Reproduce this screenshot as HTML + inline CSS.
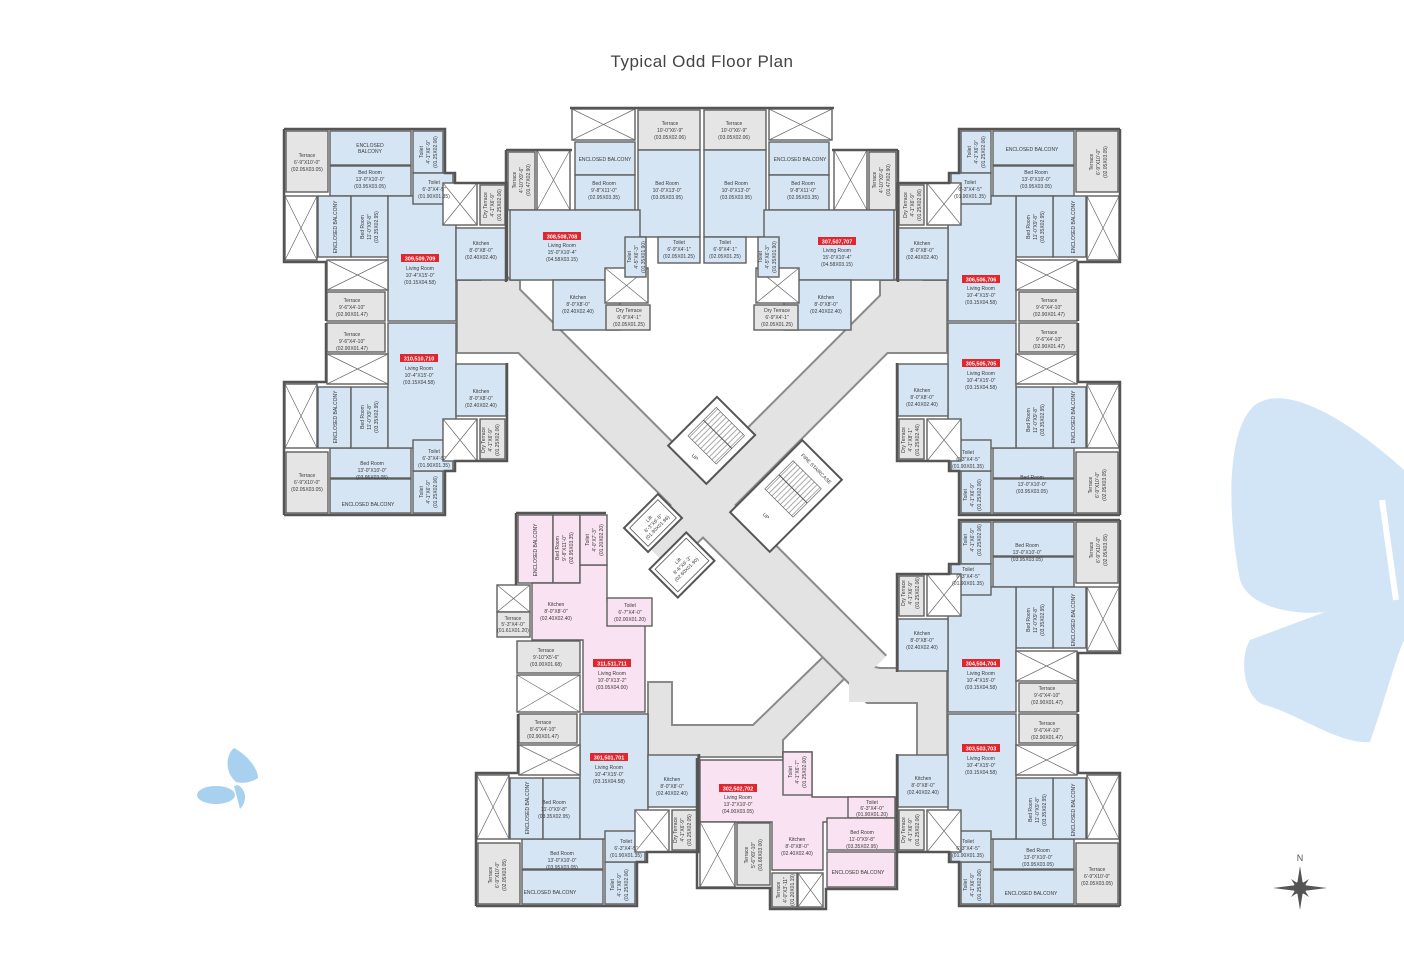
<!DOCTYPE html>
<html><head><meta charset="utf-8"><style>
html,body{margin:0;padding:0;background:#fff;width:1404px;height:972px;overflow:hidden}
svg{display:block}
.b{fill:#d6e5f4;stroke:#5f5f5f;stroke-width:1.4}
.p{fill:#f9e2f1;stroke:#5f5f5f;stroke-width:1.4}
.g{fill:#e5e5e5;stroke:#5f5f5f;stroke-width:1.4}
.v{fill:#fff;stroke:#5f5f5f;stroke-width:1.4}
.x{stroke:#6a6a6a;stroke-width:0.7;fill:none}
.t{font-family:"Liberation Sans",sans-serif;font-size:5px;fill:#3a3a3a;text-anchor:middle}
.r{fill:#e0262e}
.rt{font-family:"Liberation Sans",sans-serif;font-size:5.5px;font-weight:bold;fill:#fff;text-anchor:middle}
</style></head><body>
<svg width="1404" height="972" viewBox="0 0 1404 972" xmlns="http://www.w3.org/2000/svg">
<defs>
<pattern id="st" width="4" height="4" patternUnits="userSpaceOnUse"><rect width="4" height="4" fill="#fff"/><path d="M2 0V4" stroke="#555" stroke-width="0.5"/></pattern>
<g id="u309">
<rect class="g" x="286" y="131" width="42" height="61"/>
<rect class="b" x="330" y="131" width="81" height="34"/>
<rect class="b" x="413" y="131" width="30" height="42"/>
<rect class="b" x="330" y="166" width="81" height="30"/>
<rect class="v" x="285" y="196" width="32" height="64"/><path class="x" d="M285 196L317 260M317 196L285 260"/>
<rect class="b" x="318" y="196" width="33" height="61"/>
<rect class="b" x="351" y="196" width="37" height="61"/>
<rect class="b" x="388" y="196" width="68" height="125"/>
<rect class="b" x="456" y="228" width="50" height="52"/>
<rect class="b" x="413" y="173" width="40" height="31"/>
<rect class="v" x="443" y="183" width="34" height="42"/><path class="x" d="M443 183L477 225M477 183L443 225"/>
<rect class="g" x="480" y="185" width="25" height="40"/>
<rect class="v" x="327" y="260" width="61" height="30"/><path class="x" d="M327 260L388 290M388 260L327 290"/>
<rect class="g" x="327" y="292" width="58" height="29"/>
<path d="M284 129H445V173H455V183H507V281M284 129V262H326V321" fill="none" stroke="#555" stroke-width="2.5"/>
</g>
<g id="lt"><use href="#u309"/><use href="#u309" transform="matrix(1,0,0,-1,0,644)"/></g>
<g id="t308">
<rect class="v" x="572" y="109" width="63" height="31"/><path class="x" d="M572 109L635 140M635 109L572 140"/>
<rect class="g" x="638" y="110" width="62" height="40"/>
<rect class="b" x="575" y="142" width="60" height="33"/>
<rect class="b" x="575" y="175" width="60" height="35"/>
<rect class="b" x="638" y="150" width="62" height="87"/>
<rect class="g" x="508" y="152" width="27" height="58"/>
<rect class="v" x="537" y="150" width="33" height="60"/><path class="x" d="M537 150L570 210M570 150L537 210"/>
<rect class="b" x="510" y="210" width="130" height="70"/>
<rect class="b" x="553" y="280" width="67" height="50"/>
<rect class="v" x="605" y="268" width="43" height="35"/><path class="x" d="M605 268L648 303M648 268L605 303"/>
<rect class="g" x="606" y="305" width="44" height="25"/>
<rect class="b" x="625" y="237" width="21" height="40"/>
<rect class="b" x="658" y="237" width="42" height="26"/>
<path d="M570 108H702M506 150V282M506 150H572" fill="none" stroke="#555" stroke-width="2.5"/>
</g>
</defs>

<text x="702" y="67" text-anchor="middle" font-family="'Liberation Sans',sans-serif" font-size="17" fill="#444" letter-spacing="0.5">Typical Odd Floor Plan</text>

<!-- butterflies -->
<path d="M1404 470C1360 430 1290 380 1255 405C1225 430 1228 520 1240 580C1250 610 1300 615 1325 612L1250 640C1238 660 1245 700 1265 705C1300 715 1340 745 1370 742C1385 700 1395 660 1404 640Z" fill="#d2e5f6"/>
<path d="M1382 500L1396 600" stroke="#fff" stroke-width="6"/>
<g fill="#a8d0ef">
<path d="M236 782C224 772 226 754 234 748C246 754 258 768 258 778C252 782 244 784 236 782Z"/>
<ellipse cx="216" cy="795" rx="19" ry="9"/>
<path d="M234 786L240 809C248 800 246 790 238 785Z"/>
</g>

<!-- corridor -->
<g stroke="#8a8a8a" stroke-width="2" fill="#e3e3e3">
<rect x="457" y="280" width="63" height="73"/>
<rect x="880" y="280" width="67" height="73"/>
<polygon points="823,657 753,725 672,725 672,682 648,682 648,757 783,757 783,740 845,678 867,703 917,703 917,757 947,757 947,668 880,668"/>
</g>
<g fill="none" stroke-linecap="butt">
<path d="M480 282L870 672" stroke="#8a8a8a" stroke-width="48"/>
<path d="M925 283L655 553" stroke="#8a8a8a" stroke-width="48"/>
<path d="M480 282L870 672" stroke="#e3e3e3" stroke-width="44"/>
<path d="M925 283L655 553" stroke="#e3e3e3" stroke-width="44"/>
</g>
<rect x="458" y="281" width="61" height="71" fill="#e3e3e3"/>
<rect x="881" y="281" width="65" height="71" fill="#e3e3e3"/>
<rect x="849" y="669" width="97" height="33" fill="#e3e3e3"/>
<rect x="918" y="690" width="28" height="66" fill="#e3e3e3"/>

<!-- stairs & lifts -->
<g transform="translate(712,440) rotate(45)"><rect x="-27" y="-34" width="54" height="69" fill="#fff" stroke="#555" stroke-width="2"/><rect x="-20" y="-26" width="40" height="40" fill="url(#st)" stroke="#555" stroke-width="0.6"/><path d="M-20 -8H20" stroke="#555"/><text class="t" x="0" y="26">UP</text></g>
<g transform="translate(786,496) rotate(45)"><rect x="-28" y="-51" width="56" height="102" fill="#fff" stroke="#555" stroke-width="2"/><rect x="-20" y="-30" width="40" height="40" fill="url(#st)" stroke="#555" stroke-width="0.6"/><path d="M-20 -10H20" stroke="#555"/><text class="t" x="0" y="30">UP</text></g>
<text class="t" transform="translate(815,470) rotate(45)">FIRE STAIRCASE</text>
<g transform="translate(653,523) rotate(-45)"><rect x="-24" y="-17" width="48" height="34" fill="#fff" stroke="#555" stroke-width="2"/><rect x="-20" y="-13" width="40" height="26" fill="none" stroke="#555" stroke-width="0.8"/><text class="t"><tspan x="0" y="-4">Lift</tspan><tspan x="0" y="2">6'-3"X6'-5"</tspan><tspan x="0" y="8">(01.90X01.96)</tspan></text></g>
<g transform="translate(682,565) rotate(-45)"><rect x="-26" y="-20" width="52" height="40" fill="#fff" stroke="#555" stroke-width="2"/><rect x="-22" y="-16" width="44" height="32" fill="none" stroke="#555" stroke-width="0.8"/><text class="t"><tspan x="0" y="-4">Lift</tspan><tspan x="0" y="2">8'-6"X6'-3"</tspan><tspan x="0" y="8">(02.60X01.90)</tspan></text></g>

<!-- units -->
<use href="#lt"/>
<use href="#lt" transform="matrix(-1,0,0,1,1404,0)"/>
<use href="#lt" transform="matrix(-1,0,0,1,1404,391)"/>
<use href="#u309" transform="matrix(1,0,0,-1,192,1035)"/>
<use href="#t308"/>
<use href="#t308" transform="matrix(-1,0,0,1,1404,0)"/>

<!-- 311 pink -->
<g>
<rect class="p" x="518" y="515" width="35" height="68"/>
<rect class="p" x="553" y="515" width="27" height="68"/>
<polygon class="p" points="532,583 580,583 580,565 607,565 607,600 645,600 645,712 583,712 583,640 532,640"/>
<rect class="p" x="580" y="515" width="27" height="50"/>
<rect class="p" x="607" y="598" width="45" height="28"/>
<rect class="v" x="497" y="585" width="33" height="27"/><path class="x" d="M497 585L530 612M530 585L497 612"/>
<rect class="g" x="497" y="612" width="33" height="25"/>
<rect class="g" x="517" y="641" width="63" height="32"/>
<rect class="v" x="517" y="675" width="63" height="37"/><path class="x" d="M517 675L580 712M580 675L517 712"/>
<path d="M516 513H606M516 513V585" stroke="#555" stroke-width="2.5" fill="none"/>
</g>
<!-- 302 pink -->
<g>
<polygon class="p" points="700,760 783,760 783,752 812,752 812,797 895,797 895,822 848,822 823,822 823,870 772,870 772,822 700,822"/>
<rect class="p" x="783" y="752" width="29" height="43"/>
<rect class="p" x="848" y="797" width="47" height="21"/>
<rect class="p" x="827" y="818" width="68" height="32"/>
<rect class="p" x="827" y="852" width="68" height="35"/>
<rect class="v" x="700" y="822" width="35" height="65"/><path class="x" d="M700 822L735 887M735 822L700 887"/>
<rect class="g" x="737" y="823" width="33" height="62"/>
<rect class="g" x="772" y="873" width="25" height="34"/>
<rect class="v" x="798" y="873" width="25" height="34"/><path class="x" d="M798 873L823 907M823 873L798 907"/>
<path d="M697 758V888H770V909H826V889H897V797" stroke="#555" stroke-width="2.5" fill="none"/>
</g>

<!-- red labels -->
<g>
<rect class="r" x="401" y="254" width="38" height="8"/><text class="rt" x="420" y="260.5">309,509,709</text>
<rect class="r" x="400" y="354" width="38" height="8"/><text class="rt" x="419" y="360.5">310,510,710</text>
<rect class="r" x="543" y="232" width="38" height="8"/><text class="rt" x="562" y="238.5">308,508,708</text>
<rect class="r" x="818" y="237" width="38" height="8"/><text class="rt" x="837" y="243.5">307,507,707</text>
<rect class="r" x="962" y="275" width="38" height="8"/><text class="rt" x="981" y="281.5">306,506,706</text>
<rect class="r" x="962" y="359" width="38" height="8"/><text class="rt" x="981" y="365.5">305,505,705</text>
<rect class="r" x="962" y="659" width="38" height="8"/><text class="rt" x="981" y="665.5">304,504,704</text>
<rect class="r" x="962" y="744" width="38" height="8"/><text class="rt" x="981" y="750.5">303,503,703</text>
<rect class="r" x="593" y="659" width="38" height="8"/><text class="rt" x="612" y="665.5">311,511,711</text>
<rect class="r" x="590" y="753" width="38" height="8"/><text class="rt" x="609" y="759.5">301,501,701</text>
<rect class="r" x="719" y="784" width="38" height="8"/><text class="rt" x="738" y="790.5">302,502,702</text>
</g>

<!-- texts -->
<g>
<text class="t"><tspan x="307" y="157">Terrace</tspan><tspan x="307" y="164">6'-9"X10'-0"</tspan><tspan x="307" y="171">(02.05X03.05)</tspan></text>
<text class="t"><tspan x="370" y="147">ENCLOSED</tspan><tspan x="370" y="153">BALCONY</tspan></text>
<text class="t" transform="translate(428,152) rotate(-90)"><tspan x="0" y="-5">Toilet</tspan><tspan x="0" y="2">4'-1"X6'-9"</tspan><tspan x="0" y="9">(01.25X02.06)</tspan></text>
<text class="t"><tspan x="370" y="174">Bed Room</tspan><tspan x="370" y="181">13'-0"X10'-0"</tspan><tspan x="370" y="188">(03.95X03.05)</tspan></text>
<text class="t"><tspan x="434" y="184">Toilet</tspan><tspan x="434" y="191">6'-3"X4'-5"</tspan><tspan x="434" y="198">(01.90X01.35)</tspan></text>
<text class="t" transform="translate(335,227) rotate(-90)"><tspan x="0" y="2">ENCLOSED BALCONY</tspan></text>
<text class="t" transform="translate(369,227) rotate(-90)"><tspan x="0" y="-5">Bed Room</tspan><tspan x="0" y="2">11'-0"X9'-8"</tspan><tspan x="0" y="9">(03.35X02.95)</tspan></text>
<text class="t" transform="translate(492,205) rotate(-90)"><tspan x="0" y="-5">Dry Terrace</tspan><tspan x="0" y="2">4'-1"X6'-9"</tspan><tspan x="0" y="9">(01.25X02.06)</tspan></text>
<text class="t"><tspan x="481" y="245">Kitchen</tspan><tspan x="481" y="252">8'-0"X8'-0"</tspan><tspan x="481" y="259">(02.40X02.40)</tspan></text>
<text class="t"><tspan x="420" y="270">Living Room</tspan><tspan x="420" y="277">10'-4"X15'-0"</tspan><tspan x="420" y="284">(03.15X04.58)</tspan></text>
<text class="t"><tspan x="352" y="302">Terrace</tspan><tspan x="352" y="309">9'-6"X4'-10"</tspan><tspan x="352" y="316">(02.90X01.47)</tspan></text>
<text class="t"><tspan x="352" y="336">Terrace</tspan><tspan x="352" y="343">9'-6"X4'-10"</tspan><tspan x="352" y="350">(02.90X01.47)</tspan></text>
<text class="t"><tspan x="419" y="370">Living Room</tspan><tspan x="419" y="377">10'-4"X15'-0"</tspan><tspan x="419" y="384">(03.15X04.58)</tspan></text>
<text class="t"><tspan x="481" y="393">Kitchen</tspan><tspan x="481" y="400">8'-0"X8'-0"</tspan><tspan x="481" y="407">(02.40X02.40)</tspan></text>
<text class="t" transform="translate(335,417) rotate(-90)"><tspan x="0" y="2">ENCLOSED BALCONY</tspan></text>
<text class="t" transform="translate(369,417) rotate(-90)"><tspan x="0" y="-5">Bed Room</tspan><tspan x="0" y="2">11'-0"X9'-8"</tspan><tspan x="0" y="9">(03.35X02.95)</tspan></text>
<text class="t" transform="translate(490,440) rotate(-90)"><tspan x="0" y="-5">Dry Terrace</tspan><tspan x="0" y="2">4'-1"X6'-9"</tspan><tspan x="0" y="9">(01.25X02.06)</tspan></text>
<text class="t"><tspan x="434" y="453">Toilet</tspan><tspan x="434" y="460">6'-3"X4'-5"</tspan><tspan x="434" y="467">(01.90X01.35)</tspan></text>
<text class="t"><tspan x="372" y="465">Bed Room</tspan><tspan x="372" y="472">13'-0"X10'-0"</tspan><tspan x="372" y="479">(03.95X03.05)</tspan></text>
<text class="t"><tspan x="307" y="477">Terrace</tspan><tspan x="307" y="484">6'-9"X10'-0"</tspan><tspan x="307" y="491">(02.05X03.05)</tspan></text>
<text class="t" x="368" y="506">ENCLOSED BALCONY</text>
<text class="t" transform="translate(428,492) rotate(-90)"><tspan x="0" y="-5">Toilet</tspan><tspan x="0" y="2">4'-1"X6'-9"</tspan><tspan x="0" y="9">(01.25X02.06)</tspan></text>
<text class="t"><tspan x="670" y="125">Terrace</tspan><tspan x="670" y="132">10'-0"X6'-9"</tspan><tspan x="670" y="139">(03.05X02.06)</tspan></text>
<text class="t" x="605" y="161">ENCLOSED BALCONY</text>
<text class="t"><tspan x="604" y="185">Bed Room</tspan><tspan x="604" y="192">9'-8"X11'-0"</tspan><tspan x="604" y="199">(02.95X03.35)</tspan></text>
<text class="t"><tspan x="667" y="185">Bed Room</tspan><tspan x="667" y="192">10'-0"X13'-0"</tspan><tspan x="667" y="199">(03.05X03.95)</tspan></text>
<text class="t" transform="translate(521,180) rotate(-90)"><tspan x="0" y="-5">Terrace</tspan><tspan x="0" y="2">4'-10"X9'-6"</tspan><tspan x="0" y="9">(01.47X02.90)</tspan></text>
<text class="t"><tspan x="562" y="247">Living Room</tspan><tspan x="562" y="254">15'-0"X10'-4"</tspan><tspan x="562" y="261">(04.58X03.15)</tspan></text>
<text class="t" transform="translate(636,257) rotate(-90)"><tspan x="0" y="-5">Toilet</tspan><tspan x="0" y="2">4'-5"X6'-3"</tspan><tspan x="0" y="9">(01.35X01.90)</tspan></text>
<text class="t"><tspan x="679" y="244">Toilet</tspan><tspan x="679" y="251">6'-9"X4'-1"</tspan><tspan x="679" y="258">(02.05X01.25)</tspan></text>
<text class="t"><tspan x="578" y="299">Kitchen</tspan><tspan x="578" y="306">8'-0"X8'-0"</tspan><tspan x="578" y="313">(02.40X02.40)</tspan></text>
<text class="t"><tspan x="629" y="312">Dry Terrace</tspan><tspan x="629" y="319">6'-9"X4'-1"</tspan><tspan x="629" y="326">(02.05X01.25)</tspan></text>
<text class="t"><tspan x="734" y="125">Terrace</tspan><tspan x="734" y="132">10'-0"X6'-9"</tspan><tspan x="734" y="139">(03.05X02.06)</tspan></text>
<text class="t" x="800" y="161">ENCLOSED BALCONY</text>
<text class="t"><tspan x="803" y="185">Bed Room</tspan><tspan x="803" y="192">9'-8"X11'-0"</tspan><tspan x="803" y="199">(02.95X03.35)</tspan></text>
<text class="t"><tspan x="736" y="185">Bed Room</tspan><tspan x="736" y="192">10'-0"X13'-0"</tspan><tspan x="736" y="199">(03.05X03.95)</tspan></text>
<text class="t" transform="translate(881,180) rotate(-90)"><tspan x="0" y="-5">Terrace</tspan><tspan x="0" y="2">4'-10"X9'-6"</tspan><tspan x="0" y="9">(01.47X02.90)</tspan></text>
<text class="t"><tspan x="837" y="252">Living Room</tspan><tspan x="837" y="259">15'-0"X10'-4"</tspan><tspan x="837" y="266">(04.58X03.15)</tspan></text>
<text class="t" transform="translate(767,257) rotate(-90)"><tspan x="0" y="-5">Toilet</tspan><tspan x="0" y="2">4'-5"X6'-3"</tspan><tspan x="0" y="9">(01.35X01.90)</tspan></text>
<text class="t"><tspan x="725" y="244">Toilet</tspan><tspan x="725" y="251">6'-9"X4'-1"</tspan><tspan x="725" y="258">(02.05X01.25)</tspan></text>
<text class="t"><tspan x="826" y="299">Kitchen</tspan><tspan x="826" y="306">8'-0"X8'-0"</tspan><tspan x="826" y="313">(02.40X02.40)</tspan></text>
<text class="t"><tspan x="777" y="312">Dry Terrace</tspan><tspan x="777" y="319">6'-9"X4'-1"</tspan><tspan x="777" y="326">(02.05X01.25)</tspan></text>
<text class="t" transform="translate(1098,162) rotate(-90)"><tspan x="0" y="-5">Terrace</tspan><tspan x="0" y="2">6'-9"X10'-0"</tspan><tspan x="0" y="9">(02.05X03.05)</tspan></text>
<text class="t" x="1032" y="151">ENCLOSED BALCONY</text>
<text class="t" transform="translate(976,152) rotate(-90)"><tspan x="0" y="-5">Toilet</tspan><tspan x="0" y="2">4'-1"X6'-9"</tspan><tspan x="0" y="9">(01.25X02.06)</tspan></text>
<text class="t"><tspan x="1036" y="174">Bed Room</tspan><tspan x="1036" y="181">13'-0"X10'-0"</tspan><tspan x="1036" y="188">(03.95X03.05)</tspan></text>
<text class="t"><tspan x="970" y="184">Toilet</tspan><tspan x="970" y="191">6'-3"X4'-5"</tspan><tspan x="970" y="198">(01.90X01.35)</tspan></text>
<text class="t" transform="translate(1073,227) rotate(-90)"><tspan x="0" y="2">ENCLOSED BALCONY</tspan></text>
<text class="t" transform="translate(1035,227) rotate(-90)"><tspan x="0" y="-5">Bed Room</tspan><tspan x="0" y="2">11'-0"X9'-8"</tspan><tspan x="0" y="9">(03.35X02.95)</tspan></text>
<text class="t" transform="translate(912,205) rotate(-90)"><tspan x="0" y="-5">Dry Terrace</tspan><tspan x="0" y="2">4'-1"X6'-9"</tspan><tspan x="0" y="9">(01.25X02.06)</tspan></text>
<text class="t"><tspan x="922" y="245">Kitchen</tspan><tspan x="922" y="252">8'-0"X8'-0"</tspan><tspan x="922" y="259">(02.40X02.40)</tspan></text>
<text class="t"><tspan x="981" y="290">Living Room</tspan><tspan x="981" y="297">10'-4"X15'-0"</tspan><tspan x="981" y="304">(03.15X04.58)</tspan></text>
<text class="t"><tspan x="1049" y="302">Terrace</tspan><tspan x="1049" y="309">9'-6"X4'-10"</tspan><tspan x="1049" y="316">(02.90X01.47)</tspan></text>
<text class="t"><tspan x="1049" y="334">Terrace</tspan><tspan x="1049" y="341">9'-6"X4'-10"</tspan><tspan x="1049" y="348">(02.90X01.47)</tspan></text>
<text class="t"><tspan x="981" y="375">Living Room</tspan><tspan x="981" y="382">10'-4"X15'-0"</tspan><tspan x="981" y="389">(03.15X04.58)</tspan></text>
<text class="t"><tspan x="922" y="392">Kitchen</tspan><tspan x="922" y="399">8'-0"X8'-0"</tspan><tspan x="922" y="406">(02.40X02.40)</tspan></text>
<text class="t" transform="translate(1073,417) rotate(-90)"><tspan x="0" y="2">ENCLOSED BALCONY</tspan></text>
<text class="t" transform="translate(1035,420) rotate(-90)"><tspan x="0" y="-5">Bed Room</tspan><tspan x="0" y="2">11'-0"X9'-8"</tspan><tspan x="0" y="9">(03.35X02.95)</tspan></text>
<text class="t" transform="translate(910,440) rotate(-90)"><tspan x="0" y="-5">Dry Terrace</tspan><tspan x="0" y="2">4'-1"X8'-1"</tspan><tspan x="0" y="9">(01.25X02.46)</tspan></text>
<text class="t"><tspan x="968" y="454">Toilet</tspan><tspan x="968" y="461">6'-3"X4'-5"</tspan><tspan x="968" y="468">(01.90X01.35)</tspan></text>
<text class="t"><tspan x="1032" y="479">Bed Room</tspan><tspan x="1032" y="486">13'-0"X10'-0"</tspan><tspan x="1032" y="493">(03.95X03.05)</tspan></text>
<text class="t" transform="translate(1097,485) rotate(-90)"><tspan x="0" y="-5">Terrace</tspan><tspan x="0" y="2">6'-9"X10'-0"</tspan><tspan x="0" y="9">(02.05X03.05)</tspan></text>
<text class="t" transform="translate(972,495) rotate(-90)"><tspan x="0" y="-5">Toilet</tspan><tspan x="0" y="2">4'-1"X6'-9"</tspan><tspan x="0" y="9">(01.25X02.06)</tspan></text>
<text class="t" transform="translate(972,540) rotate(-90)"><tspan x="0" y="-5">Toilet</tspan><tspan x="0" y="2">4'-1"X6'-9"</tspan><tspan x="0" y="9">(01.25X02.06)</tspan></text>
<text class="t"><tspan x="1027" y="547">Bed Room</tspan><tspan x="1027" y="554">13'-0"X10'-0"</tspan><tspan x="1027" y="561">(03.95X03.05)</tspan></text>
<text class="t" transform="translate(1098,550) rotate(-90)"><tspan x="0" y="-5">Terrace</tspan><tspan x="0" y="2">6'-9"X10'-0"</tspan><tspan x="0" y="9">(02.05X03.05)</tspan></text>
<text class="t"><tspan x="968" y="571">Toilet</tspan><tspan x="968" y="578">6'-3"X4'-5"</tspan><tspan x="968" y="585">(01.90X01.35)</tspan></text>
<text class="t" transform="translate(910,593) rotate(-90)"><tspan x="0" y="-5">Dry Terrace</tspan><tspan x="0" y="2">4'-1"X6'-9"</tspan><tspan x="0" y="9">(01.25X02.06)</tspan></text>
<text class="t" transform="translate(1035,620) rotate(-90)"><tspan x="0" y="-5">Bed Room</tspan><tspan x="0" y="2">11'-0"X9'-8"</tspan><tspan x="0" y="9">(03.35X02.95)</tspan></text>
<text class="t" transform="translate(1073,620) rotate(-90)"><tspan x="0" y="2">ENCLOSED BALCONY</tspan></text>
<text class="t"><tspan x="922" y="635">Kitchen</tspan><tspan x="922" y="642">8'-0"X8'-0"</tspan><tspan x="922" y="649">(02.40X02.40)</tspan></text>
<text class="t"><tspan x="981" y="675">Living Room</tspan><tspan x="981" y="682">10'-4"X15'-0"</tspan><tspan x="981" y="689">(03.15X04.58)</tspan></text>
<text class="t"><tspan x="1047" y="690">Terrace</tspan><tspan x="1047" y="697">9'-6"X4'-10"</tspan><tspan x="1047" y="704">(02.90X01.47)</tspan></text>
<text class="t"><tspan x="1047" y="725">Terrace</tspan><tspan x="1047" y="732">9'-6"X4'-10"</tspan><tspan x="1047" y="739">(02.90X01.47)</tspan></text>
<text class="t"><tspan x="981" y="760">Living Room</tspan><tspan x="981" y="767">10'-4"X15'-0"</tspan><tspan x="981" y="774">(03.15X04.58)</tspan></text>
<text class="t"><tspan x="923" y="780">Kitchen</tspan><tspan x="923" y="787">8'-0"X8'-0"</tspan><tspan x="923" y="794">(02.40X02.40)</tspan></text>
<text class="t" transform="translate(1037,810) rotate(-90)"><tspan x="0" y="-5">Bed Room</tspan><tspan x="0" y="2">11'-0"X9'-8"</tspan><tspan x="0" y="9">(03.35X02.95)</tspan></text>
<text class="t" transform="translate(1073,810) rotate(-90)"><tspan x="0" y="2">ENCLOSED BALCONY</tspan></text>
<text class="t" transform="translate(910,830) rotate(-90)"><tspan x="0" y="-5">Dry Terrace</tspan><tspan x="0" y="2">4'-1"X6'-9"</tspan><tspan x="0" y="9">(01.25X02.06)</tspan></text>
<text class="t"><tspan x="968" y="843">Toilet</tspan><tspan x="968" y="850">6'-3"X4'-5"</tspan><tspan x="968" y="857">(01.90X01.35)</tspan></text>
<text class="t"><tspan x="1038" y="852">Bed Room</tspan><tspan x="1038" y="859">13'-0"X10'-0"</tspan><tspan x="1038" y="866">(03.95X03.05)</tspan></text>
<text class="t"><tspan x="1097" y="871">Terrace</tspan><tspan x="1097" y="878">6'-9"X10'-0"</tspan><tspan x="1097" y="885">(02.05X03.05)</tspan></text>
<text class="t" transform="translate(972,885) rotate(-90)"><tspan x="0" y="-5">Toilet</tspan><tspan x="0" y="2">4'-1"X6'-9"</tspan><tspan x="0" y="9">(01.25X02.06)</tspan></text>
<text class="t" x="1031" y="895">ENCLOSED BALCONY</text>
<text class="t"><tspan x="543" y="724">Terrace</tspan><tspan x="543" y="731">8'-6"X4'-10"</tspan><tspan x="543" y="738">(02.90X01.47)</tspan></text>
<text class="t"><tspan x="609" y="769">Living Room</tspan><tspan x="609" y="776">10'-4"X15'-0"</tspan><tspan x="609" y="783">(03.15X04.58)</tspan></text>
<text class="t"><tspan x="672" y="781">Kitchen</tspan><tspan x="672" y="788">8'-0"X8'-0"</tspan><tspan x="672" y="795">(02.40X02.40)</tspan></text>
<text class="t" transform="translate(527,808) rotate(-90)"><tspan x="0" y="2">ENCLOSED BALCONY</tspan></text>
<text class="t"><tspan x="554" y="804">Bed Room</tspan><tspan x="554" y="811">11'-0"X9'-8"</tspan><tspan x="554" y="818">(03.35X02.95)</tspan></text>
<text class="t" transform="translate(682,830) rotate(-90)"><tspan x="0" y="-5">Dry Terrace</tspan><tspan x="0" y="2">4'-1"X6'-9"</tspan><tspan x="0" y="9">(01.25X02.05)</tspan></text>
<text class="t"><tspan x="626" y="843">Toilet</tspan><tspan x="626" y="850">6'-3"X4'-5"</tspan><tspan x="626" y="857">(01.90X01.35)</tspan></text>
<text class="t"><tspan x="562" y="855">Bed Room</tspan><tspan x="562" y="862">13'-0"X10'-0"</tspan><tspan x="562" y="869">(03.95X03.05)</tspan></text>
<text class="t" transform="translate(497,875) rotate(-90)"><tspan x="0" y="-5">Terrace</tspan><tspan x="0" y="2">6'-9"X10'-0"</tspan><tspan x="0" y="9">(02.05X03.05)</tspan></text>
<text class="t" transform="translate(619,885) rotate(-90)"><tspan x="0" y="-5">Toilet</tspan><tspan x="0" y="2">4'-1"X6'-9"</tspan><tspan x="0" y="9">(01.25X02.06)</tspan></text>
<text class="t" x="550" y="894">ENCLOSED BALCONY</text>
<text class="t" transform="translate(535,550) rotate(-90)"><tspan x="0" y="2">ENCLOSED BALCONY</tspan></text>
<text class="t" transform="translate(564,548) rotate(-90)"><tspan x="0" y="-5">Bed Room</tspan><tspan x="0" y="2">9'-8"X11'-0"</tspan><tspan x="0" y="9">(02.95X03.35)</tspan></text>
<text class="t" transform="translate(594,540) rotate(-90)"><tspan x="0" y="-5">Toilet</tspan><tspan x="0" y="2">4'-0"X7'-3"</tspan><tspan x="0" y="9">(01.20X02.20)</tspan></text>
<text class="t"><tspan x="556" y="606">Kitchen</tspan><tspan x="556" y="613">8'-0"X8'-0"</tspan><tspan x="556" y="620">(02.40X02.40)</tspan></text>
<text class="t"><tspan x="630" y="607">Toilet</tspan><tspan x="630" y="614">6'-7"X4'-0"</tspan><tspan x="630" y="621">(02.00X01.20)</tspan></text>
<text class="t"><tspan x="513" y="620">Terrace</tspan><tspan x="513" y="626">5'-3"X4'-0"</tspan><tspan x="513" y="632">(01.61X01.20)</tspan></text>
<text class="t"><tspan x="546" y="652">Terrace</tspan><tspan x="546" y="659">9'-10"X5'-6"</tspan><tspan x="546" y="666">(03.00X01.68)</tspan></text>
<text class="t"><tspan x="612" y="675">Living Room</tspan><tspan x="612" y="682">10'-0"X13'-2"</tspan><tspan x="612" y="689">(03.05X04.00)</tspan></text>
<text class="t"><tspan x="738" y="799">Living Room</tspan><tspan x="738" y="806">13'-2"X10'-0"</tspan><tspan x="738" y="813">(04.00X03.05)</tspan></text>
<text class="t" transform="translate(797,772) rotate(-90)"><tspan x="0" y="-5">Toilet</tspan><tspan x="0" y="2">4'-1"X6'-7"</tspan><tspan x="0" y="9">(01.25X02.00)</tspan></text>
<text class="t"><tspan x="872" y="804">Toilet</tspan><tspan x="872" y="810">6'-3"X4'-0"</tspan><tspan x="872" y="816">(01.90X01.20)</tspan></text>
<text class="t"><tspan x="862" y="834">Bed Room</tspan><tspan x="862" y="841">11'-0"X9'-8"</tspan><tspan x="862" y="848">(03.35X02.95)</tspan></text>
<text class="t"><tspan x="797" y="841">Kitchen</tspan><tspan x="797" y="848">8'-0"X8'-0"</tspan><tspan x="797" y="855">(02.40X02.40)</tspan></text>
<text class="t" x="858" y="874">ENCLOSED BALCONY</text>
<text class="t" transform="translate(753,855) rotate(-90)"><tspan x="0" y="-5">Terrace</tspan><tspan x="0" y="2">5'-6"X9'-10"</tspan><tspan x="0" y="9">(01.68X03.00)</tspan></text>
<text class="t" transform="translate(785,890) rotate(-90)"><tspan x="0" y="-5">Terrace</tspan><tspan x="0" y="2">4'-0"X3'-11"</tspan><tspan x="0" y="9">(01.20X01.19)</tspan></text>
</g>

<!-- compass -->
<g transform="translate(1300,888)" fill="#555">
<text x="0" y="-27" text-anchor="middle" font-family="'Liberation Sans',sans-serif" font-size="9" fill="#555">N</text>
<polygon points="0,-22 3,-3 0,0 -3,-3"/>
<polygon points="0,22 3,3 0,0 -3,3"/>
<polygon points="-27,0 -3,-3 0,0 -3,3"/>
<polygon points="27,0 3,-3 0,0 3,3"/>
<polygon points="-9,-9 2,-2 -2,2" /><polygon points="9,-9 2,2 -2,-2"/>
<polygon points="9,9 -2,2 2,-2"/><polygon points="-9,9 -2,-2 2,2"/>
<circle r="6" fill="none" stroke="#555" stroke-width="1"/>
</g>
</svg>
</body></html>
